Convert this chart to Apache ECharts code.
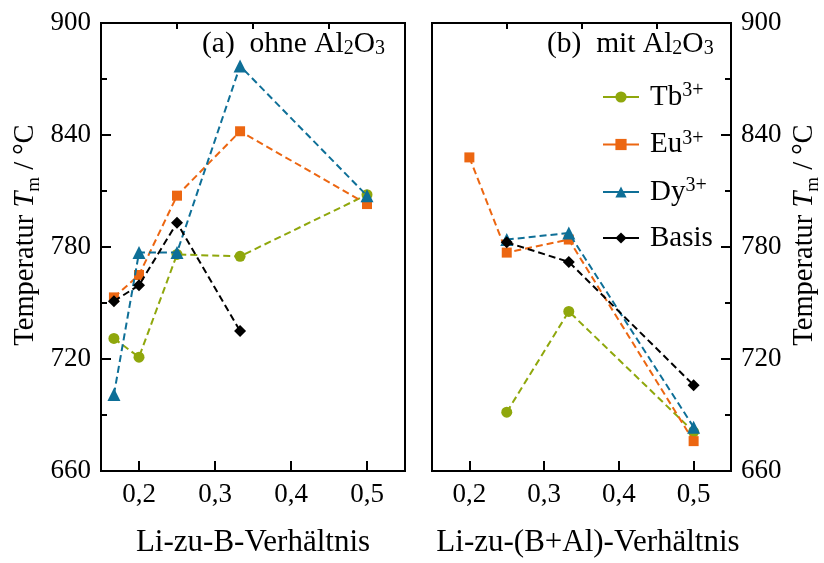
<!DOCTYPE html>
<html>
<head>
<meta charset="utf-8">
<script src="https://cdn.jsdelivr.net/npm/echarts@6/dist/echarts.min.js"></script>
<style>
  html, body { margin: 0; padding: 0; background: #fff; }
  #chart { width: 824px; height: 563px; }
</style>
</head>
<body>
<div id="chart"></div>
<script>
// Tick positions on the ratio axes
const xMajorTicks = [0.2, 0.3, 0.4, 0.5];
const xMinorTicks = [0.25, 0.35, 0.45];

// (a) ohne Al2O3: Li-zu-B ratio vs. melting temperature (°C)
const xOhne = [0.167, 0.2, 0.25, 0.333, 0.5];
const tbOhne = [731, 721, 776, 775, 808];
const euOhne = [753, 765, 807.5, 842, 803];
const dyOhne = [701, 777, 777, 877, 807.5];
const basisOhne = [751, 759.5, 793, 735, null];

// (b) mit Al2O3: Li-zu-(B+Al) ratio vs. melting temperature (°C)
const xMit = [0.2, 0.25, 0.333, 0.5];
const tbMit = [null, 691.5, 745.5, 681];
const euMit = [828, 777, 784, 676];
const dyMit = [null, 784, 787.5, 683.5];
const basisMit = [null, 782.5, 772, 706];

const seriesNames = ['Tb', 'Eu', 'Dy', 'Basis'];
const seriesColors = ['#8fa70c', '#ec6611', '#0e6f97', '#000000'];
const seriesSymbols = ['circle', 'rect', 'triangle', 'diamond'];
const symbolSizes = [11, 10, 13, 12];

const FONT = 'Liberation Serif';

function pairs(xs, ys) {
  const out = [];
  xs.forEach((x, i) => { if (ys[i] != null) out.push([x, ys[i]]); });
  return out;
}

const ohneSets = [tbOhne, euOhne, dyOhne, basisOhne];
const mitSets = [tbMit, euMit, dyMit, basisMit];

function makeSeries(panel) {
  const xs = panel === 0 ? xOhne : xMit;
  const sets = panel === 0 ? ohneSets : mitSets;
  return seriesNames.map((name, k) => ({
    name: name,
    type: 'line',
    xAxisIndex: panel,
    yAxisIndex: panel,
    data: pairs(xs, sets[k]),
    symbol: seriesSymbols[k],
    symbolSize: symbolSizes[k],
    color: seriesColors[k],
    lineStyle: { width: 2, type: [7, 4], color: seriesColors[k] },
    itemStyle: { color: seriesColors[k] },
    animation: false,
    z: 3 + k
  }));
}

// rich styles: superscript for ion charges, subscript for formulas / symbols
const supRich = {
  n: { fontFamily: FONT, fontSize: 29, lineHeight: 32, color: '#000' },
  sup: { fontFamily: FONT, fontSize: 20, lineHeight: 20, verticalAlign: 'top', color: '#000' }
};
function subRich(size) {
  return {
    t: { fontFamily: FONT, fontSize: size, lineHeight: 36, color: '#000' },
    i: { fontFamily: FONT, fontSize: size, lineHeight: 36, fontStyle: 'italic', color: '#000' },
    s: { fontFamily: FONT, fontSize: Math.round(size * 0.68), lineHeight: 20, verticalAlign: 'bottom', color: '#000' }
  };
}

function xAxisMain(grid, label, pad) {
  return {
    type: 'value', gridIndex: grid, min: 0.15, max: 0.55,
    name: label, nameLocation: 'middle', nameGap: 56,
    nameTextStyle: { fontFamily: FONT, fontSize: 31, color: '#000', padding: [0, 0, 0, pad] },
    axisLine: { show: true, lineStyle: { color: '#000', width: 2 } },
    axisTick: { show: true, inside: true, length: 10, lineStyle: { color: '#000', width: 2 }, customValues: xMajorTicks },
    axisLabel: {
      show: true, fontFamily: FONT, fontSize: 27, color: '#000', margin: 10,
      customValues: xMajorTicks,
      formatter: v => v.toFixed(1).replace('.', ',')
    },
    splitLine: { show: false }
  };
}
function xAxisMinor(grid) {
  return {
    type: 'value', gridIndex: grid, min: 0.15, max: 0.55,
    axisLine: { show: false },
    axisTick: { show: true, inside: true, length: 6, lineStyle: { color: '#000', width: 2 }, customValues: xMinorTicks },
    axisLabel: { show: false, customValues: xMinorTicks },
    splitLine: { show: false }
  };
}
const yName = '{t|Temperatur }{i|T}{s|m}{t| / °C}';
function yAxis(grid, pos, gap) {
  return {
    type: 'value', gridIndex: grid, position: pos,
    min: 660, max: 900, interval: 60,
    name: yName, nameLocation: 'middle', nameGap: gap, nameRotate: 90,
    nameTextStyle: { fontFamily: FONT, fontSize: 28.5, color: '#000', rich: subRich(28.5), padding: [0, 0, 0, 24] },
    axisLine: { show: true, lineStyle: { color: '#000', width: 2 } },
    axisTick: { show: true, inside: true, length: 10, lineStyle: { color: '#000', width: 2 } },
    minorTick: { show: true, splitNumber: 2, length: 6, lineStyle: { color: '#000', width: 2 } },
    axisLabel: { show: true, fontFamily: FONT, fontSize: 27, color: '#000', margin: 10 },
    splitLine: { show: false },
    minorSplitLine: { show: false }
  };
}

const titleStyle = { fontFamily: FONT, fontSize: 29.5, fontWeight: 'normal', color: '#000', rich: subRich(29.5) };

const option = {
  backgroundColor: '#fff',
  animation: false,
  grid: [
    { left: 101, top: 23, width: 304, height: 454, show: true, borderColor: '#000', borderWidth: 2, backgroundColor: 'transparent' },
    { left: 432, top: 23, width: 303, height: 454, show: true, borderColor: '#000', borderWidth: 2, backgroundColor: 'transparent' }
  ],
  title: [
    { text: '(a)  ohne Al{s|2}O{s|3}', left: 197, top: 24, textStyle: titleStyle },
    { text: '(b)  mit Al{s|2}O{s|3}', left: 542, top: 24, textStyle: titleStyle }
  ],
  legend: {
    orient: 'vertical', left: 597, top: 76,
    itemWidth: 36, itemHeight: 14, itemGap: 17,
    data: seriesNames,
    lineStyle: { type: 'solid', width: 2 },
    formatter: name => name === 'Basis' ? '{n|Basis}' : '{n|' + name + '}{sup|3+}',
    textStyle: { fontFamily: FONT, fontSize: 29, color: '#000', rich: supRich, padding: [0, 0, 0, 6] }
  },
  xAxis: [
    xAxisMain(0, 'Li-zu-B-Verhältnis', 0),
    xAxisMain(1, 'Li-zu-(B+Al)-Verhältnis', 13),
    xAxisMinor(0),
    xAxisMinor(1)
  ],
  yAxis: [yAxis(0, 'left', 57), yAxis(1, 'right', 56)],
  series: makeSeries(0).concat(makeSeries(1))
};

const chart = echarts.init(document.getElementById('chart'), null, { renderer: 'canvas' });
chart.setOption(option);
</script>
</body>
</html>
